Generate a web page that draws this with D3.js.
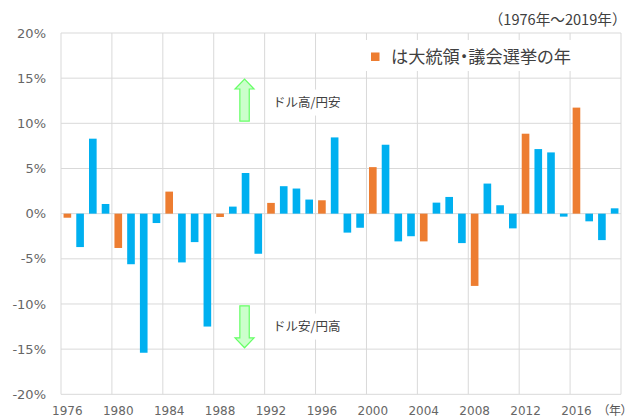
<!DOCTYPE html>
<html><head><meta charset="utf-8">
<script src="https://cdn.jsdelivr.net/npm/d3@7"></script>
<style>
html,body{margin:0;padding:0;background:#fff;overflow:hidden;}
svg{display:block;}
.palt{font-feature-settings:"palt" 1;}
</style></head>
<body>
<script>
// ---- data ----
const years = d3.range(1976, 2020);
const changes = [
  -0.45, -3.7, 8.3, 1.07, -3.8, -5.6, -15.4, -1.04, 2.44, -5.4, -3.15,
  -12.5, -0.37, 0.78, 4.5, -4.44, 1.19, 3.04, 2.78, 1.56, 1.48, 8.44,
  -2.1, -1.56, 5.15, 7.63, -3.07, -2.5, -3.07, 1.22, 1.85, -3.26, -8.0,
  3.33, 0.93, -1.63, 8.85, 7.15, 6.78, -0.33, 11.74, -0.85, -2.93, 0.59
];
const electionYears = [1976, 1980, 1984, 1988, 1992, 1996, 2000, 2004, 2008, 2012, 2016];
const yTicks = [-20, -15, -10, -5, 0, 5, 10, 15, 20];
const xTickYears = [1976, 1980, 1984, 1988, 1992, 1996, 2000, 2004, 2008, 2012, 2016];
const legendLabel = "は大統領・議会選挙の年";
const periodLabel = "（1976年～2019年）";
const unitLabel = "（年）";
const upLabel = "ドル高/円安";
const downLabel = "ドル安/円高";

const W = 628, H = 417;
const pLeft = 61, pRight = 621, pTop = 33, pBottom = 394.3;
const BLUE = "#00B0F0", ORANGE = "#ED7D31", GRID = "#D9D9D9";
const latin = "'DejaVu Sans', Verdana, sans-serif";
const cjk = "'Noto Sans CJK JP', 'Noto Sans', sans-serif";

const svg = d3.select("body").append("svg").attr("width", W).attr("height", H);

const x = d3.scaleBand().domain(years).range([pLeft, pRight]).paddingInner(0.4).paddingOuter(0.2);
const y = d3.scaleLinear().domain([-20, 20]).range([pBottom, pTop]);
const step = x.step();
const boundary = yr => x(yr) - step * 0.2;

// grid
const g = svg.append("g");
g.selectAll("line.h").data(yTicks).join("line")
  .attr("x1", pLeft).attr("x2", pRight)
  .attr("y1", d => y(d)).attr("y2", d => y(d))
  .attr("stroke", GRID).attr("stroke-width", 1);
const vb = d3.range(1976, 2021, 4);
g.selectAll("line.v").data(vb).join("line")
  .attr("x1", d => d === 2020 ? pRight : boundary(d))
  .attr("x2", d => d === 2020 ? pRight : boundary(d))
  .attr("y1", pTop).attr("y2", pBottom)
  .attr("stroke", GRID).attr("stroke-width", 1);

// text label boxes (white background)
function labelBox(xp, yv, w, h) {
  svg.append("rect").attr("x", xp).attr("y", y(yv) - h / 2).attr("width", w).attr("height", h).attr("fill", "#fff");
}
labelBox(268, 12.3, 78, 26);
labelBox(268, -12.5, 78, 26);
// legend box
svg.append("rect").attr("x", 363).attr("y", 40).attr("width", 218).attr("height", 31).attr("fill", "#fff");

// bars
const data = years.map((yr, i) => ({ yr, v: changes[i], el: electionYears.includes(yr) }));
svg.append("g").selectAll("rect").data(data).join("rect")
  .attr("x", d => x(d.yr))
  .attr("width", x.bandwidth())
  .attr("y", d => y(Math.max(0, d.v)))
  .attr("height", d => Math.abs(y(d.v) - y(0)))
  .attr("fill", d => d.el ? ORANGE : BLUE);

// y labels
svg.append("g").selectAll("text").data(yTicks).join("text")
  .attr("x", 46).attr("y", d => y(d)).attr("dy", "0.36em")
  .attr("text-anchor", "end")
  .attr("font-family", latin).attr("font-size", 13).attr("fill", "#666")
  .text(d => d + "%");

// x labels
svg.append("g").selectAll("text").data(xTickYears).join("text")
  .attr("x", d => x(d) + x.bandwidth() / 2).attr("y", 414.5)
  .attr("text-anchor", "middle")
  .attr("font-family", latin).attr("font-size", 12).attr("fill", "#666")
  .text(d => d);

svg.append("text").attr("class", "palt").attr("x", 627).attr("y", 414.5)
  .attr("text-anchor", "end")
  .attr("font-family", cjk).attr("font-size", 12).attr("fill", "#555")
  .text(unitLabel);

svg.append("text").attr("x", 626.5).attr("y", 25)
  .attr("text-anchor", "end")
  .attr("font-family", cjk).attr("font-size", 14.6).attr("fill", "#404040")
  .text(periodLabel);

// legend
svg.append("rect").attr("x", 371).attr("y", 52.5).attr("width", 8.5).attr("height", 8.5).attr("fill", ORANGE);
svg.append("text").attr("class", "palt").attr("x", 391).attr("y", 57).attr("dy", "0.36em")
  .attr("font-family", cjk).attr("font-size", 17.2).attr("fill", "#404040")
  .text(legendLabel);

// arrows
const ax = x(1990) + x.bandwidth() / 2 - 1;
function arrow(base, headStart, tip) {
  const sw = 4.7, hw = 9.5;
  const pts = [
    [ax - sw, y(base)], [ax - sw, y(headStart)], [ax - hw, y(headStart)],
    [ax, y(tip)], [ax + hw, y(headStart)], [ax + sw, y(headStart)], [ax + sw, y(base)]
  ];
  svg.append("path").attr("d", d3.line()(pts) + "Z")
    .attr("fill", "#CCFFCC").attr("stroke", "#66FF66").attr("stroke-width", 1.2)
    .attr("stroke-linejoin", "miter");
}
arrow(10.25, 13.8, 14.9);
arrow(-10.2, -13.75, -14.85);

svg.append("text").attr("x", 273).attr("y", y(12.3)).attr("dy", "0.36em")
  .attr("font-family", cjk).attr("font-size", 12.5).attr("fill", "#404040").text(upLabel);
svg.append("text").attr("x", 273).attr("y", y(-12.5)).attr("dy", "0.36em")
  .attr("font-family", cjk).attr("font-size", 12.5).attr("fill", "#404040").text(downLabel);
</script>
</body></html>
